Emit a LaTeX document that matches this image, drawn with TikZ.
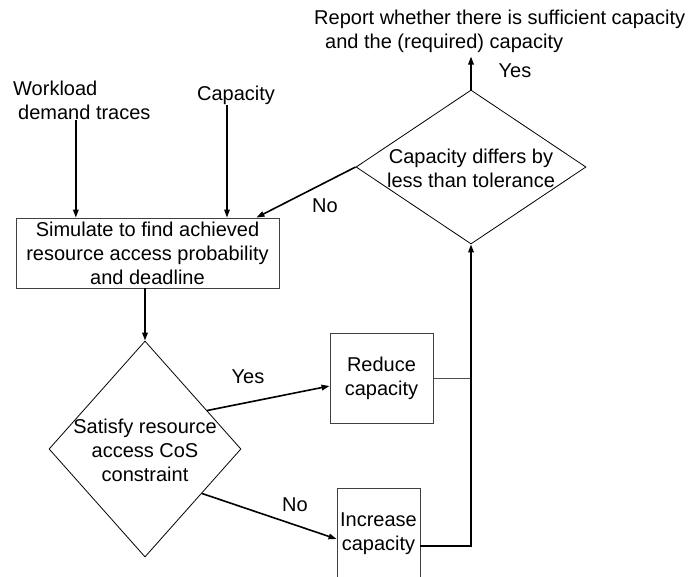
\documentclass[tikz,border=0pt]{standalone}
\usepackage{fontspec}
\setmainfont{Liberation Sans}
\usetikzlibrary{shapes.geometric,arrows.meta,calc}
\begin{document}
\begin{tikzpicture}[x=1pt,y=-1pt,
  txt/.style={font=\fontsize{20}{24}\selectfont, inner sep=0pt, align=center},
  boxnode/.style={txt, draw=black!75, line width=0.9pt},
  dia/.style={draw, shape=diamond, inner sep=0pt, line width=0.8pt},
  arr/.style={line width=1.6pt, -{Triangle[length=8pt,width=5.5pt]}},
  thinline/.style={draw=black!70, line width=0.9pt}]
\useasboundingbox (0,0) rectangle (688,576);
\clip (0,0) rectangle (688,576);
% texts
\node[txt, align=left, anchor=west] (rep) at (314,31)
  {Report whether there is sufficient capacity\\\hspace*{11pt}and the (required) capacity};
\node[txt, align=left, anchor=west] (work) at (13,100.5)
  {Workload\\\hspace*{5pt}demand traces};
\node[txt] (cap) at (236,95) {Capacity};
% boxes
\node[boxnode, minimum width=263pt, minimum height=70pt] (sim) at (147.5,253)
  {Simulate to find achieved\\resource access probability\\and deadline};
\node[dia, minimum width=230pt, minimum height=154pt] (dtop) at (471,167) {};
\node[txt] (dtoptxt) at (471,168.5) {Capacity differs by\\less than tolerance};
\node[dia, minimum width=192pt, minimum height=216pt] (ld) at (145,449) {};
\node[txt] (ldtxt) at (145,450) {Satisfy resource\\access CoS\\constraint};
\node[boxnode, minimum width=103pt, minimum height=90pt] (red) at (381.5,378)
  {Reduce\\capacity};
\node[boxnode, minimum width=83pt, minimum height=92pt] (inc) at (378.5,534)
  {Increase\\capacity};
% labels
\node[txt] (yes1) at (515,71) {Yes};
\node[txt] (no1) at (325,206) {No};
\node[txt] (yes2) at (248,377) {Yes};
\node[txt] (no2) at (295,505) {No};
% connectors
\draw[arr] (dtop.north) -- ([yshift=-4pt]dtop.north |- rep.south);
\draw[arr] ([xshift=-6pt]work.south) -- ([xshift=-6pt]work.south |- sim.north);
\draw[arr] ([xshift=-9pt]cap.south) -- ([xshift=-9pt]cap.south |- sim.north);
\draw[arr] (dtop.west) -- ([xshift=-23pt]sim.north east);
\draw[arr] (ld.north |- sim.south) -- (ld.north);
\draw[arr] ($(ld.north)!0.645!(ld.east)$) -- ([yshift=-8pt]red.west);
\draw[arr] ($(ld.east)!0.41!(ld.south)$) -- ([yshift=-5pt]inc.west);
\draw[thinline] (red.east) -- (red.east -| dtop.south);
\draw[arr] ([yshift=-12pt]inc.east) -| (dtop.south);
\end{tikzpicture}
\end{document}
